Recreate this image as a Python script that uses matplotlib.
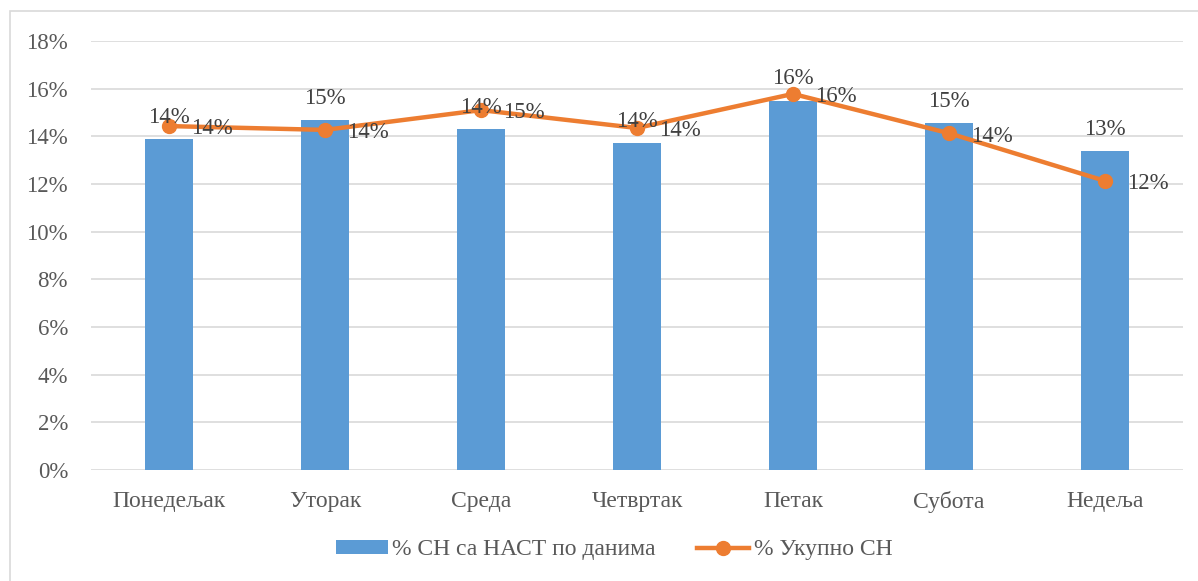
import matplotlib.pyplot as plt
from matplotlib.patches import Rectangle

# days of the week
days = ['Понедељак', 'Уторак', 'Среда', 'Четвртак', 'Петак', 'Субота', 'Недеља']
# % СН са НАСТ по данима (bars)
nast = [13.9, 14.7, 14.3, 13.7, 15.5, 14.55, 13.38]
# % Укупно СН (line)
ukupno = [14.43, 14.27, 15.1, 14.35, 15.78, 14.13, 12.13]

blue = '#5B9BD5'
orange = '#ED7D31'
fs = 16.5

plt.rcParams['font.family'] = ['Liberation Serif', 'DejaVu Serif']

fig = plt.figure(figsize=(11.98, 5.81), dpi=100)
fig.patches.append(Rectangle((10 / 1198, -0.01), 1.0, 1 - 11 / 581 + 0.01,
                             transform=fig.transFigure, fill=False,
                             edgecolor='#D9D9D9', linewidth=1.2))
ax = fig.add_axes([91 / 1198, 1 - 470 / 581, 1092 / 1198, 429 / 581])

x = list(range(len(days)))
bars = ax.bar(x, nast, width=0.31, color=blue, label='% СН са НАСТ по данима', zorder=2)
line, = ax.plot(x, ukupno, color=orange, linewidth=3.2, marker='o', markersize=10,
                label='% Укупно СН', zorder=3)

# data labels
for i, v in enumerate(nast):
    ax.annotate(f'{round(v):.0f}%', (i, v), xytext=(0, 8), textcoords='offset points',
                ha='center', va='bottom', fontsize=fs, color='#404040', zorder=4)
for i, v in enumerate(ukupno):
    ax.annotate(f'{round(v):.0f}%', (i, v), xytext=(16, -2), textcoords='offset points',
                ha='left', va='center', fontsize=fs, color='#404040', zorder=4)

ax.set_xlim(-0.5, len(days) - 0.5)
ax.set_ylim(0, 18)
ax.set_yticks(range(0, 19, 2))
ax.set_yticklabels([f'{t}%' for t in range(0, 19, 2)])
ax.set_xticks(x)
ax.set_xticklabels(days)
ax.tick_params(axis='both', length=0, labelsize=fs, labelcolor='#595959')
ax.tick_params(axis='x', labelsize=17, pad=15)
ax.tick_params(axis='y', pad=16.5)
ax.grid(axis='y', color='#D9D9D9', linewidth=1.2, zorder=0)
ax.set_axisbelow(True)
for s in ax.spines.values():
    s.set_visible(False)

leg = fig.legend([bars, line], ['% СН са НАСТ по данима', '% Укупно СН'],
                 loc='center', bbox_to_anchor=(614 / 1198, 1 - 550 / 581), ncol=2,
                 frameon=False, fontsize=17, handlelength=2.2, handleheight=0.5,
                 columnspacing=1.75, handletextpad=0.2)
for t in leg.get_texts():
    t.set_color('#595959')

fig.savefig('out.png', dpi=100)
